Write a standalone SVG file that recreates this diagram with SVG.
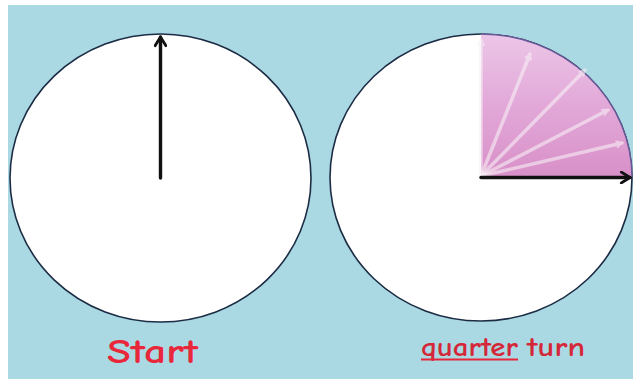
<svg xmlns="http://www.w3.org/2000/svg" width="633" height="379" viewBox="0 0 633 379">
<defs>
<style>
.face{fill:#ffffff;stroke:#1c2c44;stroke-width:1.6}
.hand{stroke:#111111;stroke-width:3.4;fill:none;stroke-linecap:round}
.ghost{stroke:#f8f0f6;stroke-width:3.5;fill:none;opacity:0.6;stroke-linecap:round}
.lbl{font-family:"Comic Sans MS","Comic Neue","Open Sans","Liberation Sans",sans-serif;font-weight:700}
</style>
<linearGradient id="pink" x1="0" y1="0" x2="0" y2="1">
<stop offset="0" stop-color="#ecc6e8"/>
<stop offset="0.5" stop-color="#e2a8d8"/>
<stop offset="1" stop-color="#d890c8"/>
</linearGradient>
<marker id="ah" viewBox="0 0 12 12" refX="10" refY="6" markerWidth="13" markerHeight="13" markerUnits="userSpaceOnUse" orient="auto">
<path d="M2,1 L10,6 L2,11" fill="none" stroke="#111111" stroke-width="2.6" stroke-linecap="round" stroke-linejoin="round"/>
</marker>
<marker id="gh" viewBox="0 0 12 12" refX="10" refY="6" markerWidth="9" markerHeight="9" markerUnits="userSpaceOnUse" orient="auto">
<path d="M3,2 L10,6 L3,10" fill="none" stroke="#f8f0f6" stroke-width="2.4" stroke-linecap="round"/>
</marker>
</defs>
<rect x="0" y="0" width="633" height="379" fill="#ffffff"/>
<rect x="8" y="5" width="625" height="374" fill="#abd9e3"/>
<g id="start-dial">
<ellipse class="face" cx="160.5" cy="178" rx="150.5" ry="144"/>
</g>
<g id="quarter-dial">
<ellipse class="face" cx="481" cy="177.5" rx="151" ry="143.5"/>
<path d="M481,177.5 L481,34 A151,143.5 0 0 1 632,177.5 Z" fill="url(#pink)"/>
<path d="M481,34 A151,143.5 0 0 1 632,177.5" fill="none" stroke="#6a5a9a" stroke-width="1.4"/>
<g id="sweep">
<line class="ghost" x1="481" y1="176" x2="481" y2="40" marker-end="url(#gh)"/>
<line class="ghost" x1="481" y1="176" x2="530" y2="54" marker-end="url(#gh)"/>
<line class="ghost" x1="481" y1="176" x2="585" y2="70" marker-end="url(#gh)"/>
<line class="ghost" x1="481" y1="176" x2="608" y2="110" marker-end="url(#gh)"/>
<line class="ghost" x1="481" y1="176" x2="622" y2="143" marker-end="url(#gh)"/>
</g>
</g>
<g id="connectors">
<line class="hand" x1="160.5" y1="178" x2="160.5" y2="37" marker-end="url(#ah)"/>
<line class="hand" x1="481" y1="177.5" x2="630" y2="177.5" marker-end="url(#ah)"/>
</g>
<g id="label-start">
<text class="lbl" x="107" y="363" font-size="34" fill="#e8283a" textLength="91" lengthAdjust="spacingAndGlyphs">Start</text>
</g>
<g id="label-quarter">
<text class="lbl" x="421" y="356" font-size="27" fill="#d42838"><tspan textLength="97" lengthAdjust="spacingAndGlyphs">quarter</tspan><tspan x="527" textLength="58" lengthAdjust="spacingAndGlyphs">turn</tspan></text>
<line x1="421" y1="359.5" x2="518" y2="359.5" stroke="#e8283a" stroke-width="2"/>
</g>
</svg>
